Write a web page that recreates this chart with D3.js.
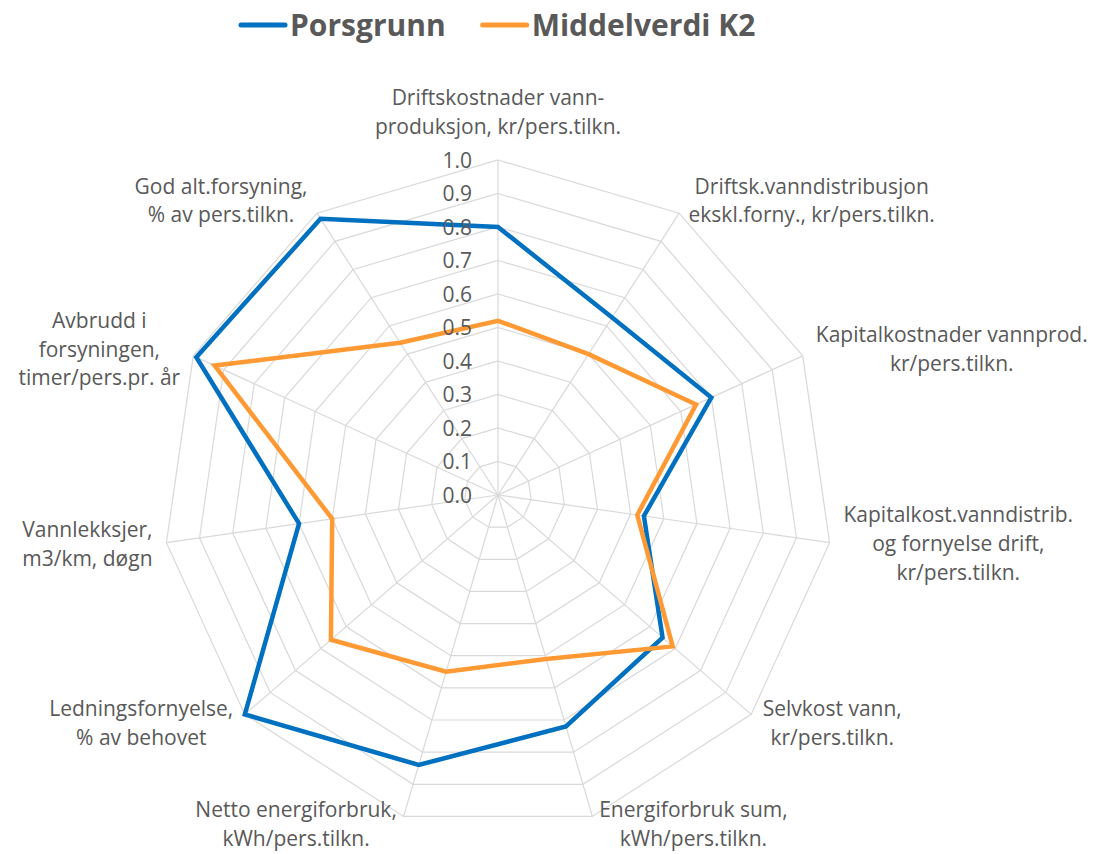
<!DOCTYPE html>
<html>
<head>
<meta charset="utf-8">
<script src="https://cdn.jsdelivr.net/npm/d3@7"></script>
<style>
  body { margin: 0; background: #fff; }
  text { font-family: "Open Sans", sans-serif; fill: #595959; }
</style>
</head>
<body>
<script>
const width = 1099
const height = 854

// axis labels (one entry per spoke, split into lines)
const categories = [
    ["Driftskostnader vann-", "produksjon, kr/pers.tilkn."],
    ["Driftsk.vanndistribusjon", "ekskl.forny., kr/pers.tilkn."],
    ["Kapitalkostnader vannprod.", "kr/pers.tilkn."],
    ["Kapitalkost.vanndistrib.", "og fornyelse drift,", "kr/pers.tilkn."],
    ["Selvkost vann,", "kr/pers.tilkn."],
    ["Energiforbruk sum,", "kWh/pers.tilkn."],
    ["Netto energiforbruk,", "kWh/pers.tilkn."],
    ["Ledningsfornyelse,", "% av behovet"],
    ["Vannlekksjer,", "m3/km, døgn"],
    ["Avbrudd i", "forsyningen,", "timer/pers.pr. år"],
    ["God alt.forsyning,", "% av pers.tilkn."]
];

const porsgrunn = [0.80, 0.63, 0.70, 0.44, 0.65, 0.72, 0.84, 1.00, 0.60, 0.99, 0.98];
const middelverdi = [0.52, 0.50, 0.65, 0.42, 0.69, 0.51, 0.55, 0.66, 0.50, 0.93, 0.54];

const seriesNames = ["Porsgrunn", "Middelverdi K2"];
const seriesColors = ["#0070C0", "#FF9933"];

const ticks = [0, 0.1, 0.2, 0.3, 0.4, 0.5, 0.6, 0.7, 0.8, 0.9, 1.0];

const cx = 498, cy = 495;

const svg = d3.select("body").append("svg")
    .attr("width", width)
    .attr("height", height);

const g = svg.append("g").attr("transform", `translate(${cx},${cy})`);

const r = d3.scaleLinear().domain([0, 1]).range([0, 335]);
const angle = d3.scaleLinear().domain([0, categories.length]).range([0, 2 * Math.PI]);

function point(i, v) {
    const a = angle(i);
    return [r(v) * Math.sin(a), -r(v) * Math.cos(a)];
}

// grid rings
const ringLine = d3.line().curve(d3.curveLinearClosed);
g.selectAll(".ring")
    .data(ticks.filter(t => t > 0))
    .enter()
    .append("path")
    .attr("d", t => ringLine(categories.map((c, i) => point(i, t))))
    .attr("fill", "none")
    .attr("stroke", "#D9D9D9")
    .attr("stroke-width", 1.2);

// spokes
g.selectAll(".spoke")
    .data(categories)
    .enter()
    .append("line")
    .attr("x1", 0).attr("y1", 0)
    .attr("x2", (d, i) => point(i, 1)[0])
    .attr("y2", (d, i) => point(i, 1)[1])
    .attr("stroke", "#D9D9D9")
    .attr("stroke-width", 1.2);

// series
[porsgrunn, middelverdi].forEach((vals, s) => {
    g.append("path")
        .attr("d", ringLine(vals.map((v, i) => point(i, v))))
        .attr("fill", "none")
        .attr("stroke", seriesColors[s])
        .attr("stroke-width", 4.5)
        .attr("stroke-linejoin", "miter");
});

// tick labels
g.selectAll(".tick")
    .data(ticks)
    .enter()
    .append("text")
    .attr("x", -26)
    .attr("y", t => -r(t) + 7.5)
    .attr("text-anchor", "end")
    .style("font-size", "21px")
    .text(d3.format(".1f"));

// category labels
const lineH = 28.8;
const maxBaseline = height - cy - 8;   // keep the lowest line inside the picture
categories.forEach((lines, i) => {
    const a = angle(i);
    const [px, py] = point(i, 1);
    const s = Math.sin(a), c = Math.cos(a);
    const txt = g.append("text").style("font-size", "21px").attr("text-anchor", "middle");
    lines.forEach((l, k) => txt.append("tspan").text(l));
    const w = d3.max(txt.selectAll("tspan").nodes(), n => n.getComputedTextLength());
    const h = lines.length * lineH;
    const gap = 4 + 10 * Math.abs(s);
    let mx, my;
    if (Math.abs(s) < 0.1) {
        mx = px;
        my = c > 0 ? py - 18 - h / 2 : py + 18 + h / 2;
    } else {
        mx = s > 0 ? px + gap + w / 2 : px - gap - w / 2;
        my = py - c * 14;
    }
    let top = my - h / 2 + 21;
    top = Math.min(top, maxBaseline - lineH * (lines.length - 1));
    txt.selectAll("tspan")
        .attr("x", mx)
        .attr("y", (d, k) => top + lineH * k);
});

// legend
const legend = svg.append("g");
let lx = 241;
seriesNames.forEach((name, s) => {
    legend.append("line")
        .attr("x1", lx).attr("x2", lx + 44)
        .attr("y1", 25).attr("y2", 25)
        .attr("stroke", seriesColors[s])
        .attr("stroke-width", 5)
        .attr("stroke-linecap", "round");
    const t = legend.append("text")
        .attr("x", lx + 49)
        .attr("y", 36)
        .style("font-size", "30px")
        .style("font-weight", "bold")
        .text(name);
    lx += 49 + t.node().getComputedTextLength() + 37;
});
</script>
</body>
</html>
